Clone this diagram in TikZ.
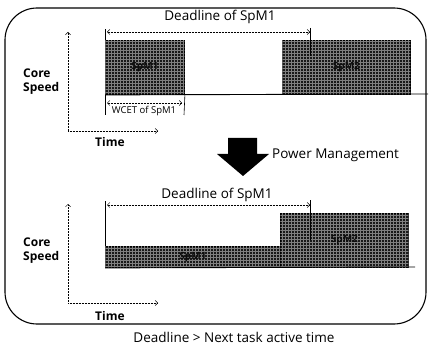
\documentclass[tikz,border=0pt]{standalone}
\usepackage{fontspec}
\setmainfont{Open Sans}
\usetikzlibrary{arrows.meta,patterns}
\begin{document}
\begin{tikzpicture}[x=1pt,y=-1pt,
 lbl/.style={font=\fontsize{13.5}{16}\selectfont, inner sep=0},
 axl/.style={font=\bfseries\fontsize{12}{13.5}\selectfont, inner sep=0, align=left},
 task/.style={draw=black, line width=0.9pt, fill=black!90, postaction={pattern=grid, pattern color=black!50}, inner sep=0, anchor=north west},
 tasklbl/.style={font=\bfseries\fontsize{10}{12}\selectfont, text=black!95, inner sep=0},
 dim/.style={densely dotted, line width=0.5pt, {Straight Barb[length=2.5pt]}-{Straight Barb[length=2.5pt]}},
 axis/.style={densely dotted, line width=0.5pt, -{Straight Barb[length=2.5pt]}},
 tick/.style={line width=0.6pt},
 base/.style={line width=0.9pt}]
\useasboundingbox (0,0) rectangle (430,347);
% outer frame
\draw[line width=1.1pt, rounded corners=32] (5,8) rectangle (426,324);

% ---------- top panel ----------
\coordinate (yt1) at (68,131);
\coordinate (yt1top) at (68,32);
\coordinate (xt1end) at (158,131);
\draw[axis] (yt1) -- (yt1top);
\draw[axis] (yt1) -- (xt1end);
\node[axl, anchor=north west] (cs1) at (23,69) {Core\\Speed};
\node[axl, anchor=west] (time1) at (95,142) {Time};

\node[task, minimum width=79, minimum height=54] (a1) at (105,40) {};
\node[tasklbl] (a1l) at (a1.center) {SpM1};
\node[task, minimum width=128, minimum height=54] (b1) at (282,40) {};
\node[tasklbl] (b1l) at (b1.center) {SpM2};
\coordinate (base1end) at (428,94);
\draw[base] (a1.south west) -- (base1end);

\coordinate (s1top) at (105,29);
\draw[tick] (a1.north west) -- (s1top);
\coordinate (d1top) at (310,28);
\coordinate (d1bot) at (310,56);
\draw[tick, draw=black] (d1top) -- (d1bot);
\coordinate (dl1a) at (107,32);
\coordinate (dl1b) at (310,32);
\draw[dim] (dl1a) -- (dl1b);
\node[lbl] (dlt1) at (220,17) {Deadline of SpM1};

\coordinate (w1a) at (105,115);
\coordinate (w1b) at (184,115);
\draw[tick] (a1.south west) -- (w1a);
\draw[tick] (a1.south east) -- (w1b);
\coordinate (wa) at (107,103);
\coordinate (wb) at (182,103);
\draw[dim] (wa) -- (wb);
\node[lbl, font=\fontsize{9.5}{11}\selectfont] (wcet) at (144,111) {WCET of SpM1};

% ---------- big arrow ----------
\fill (228,138) -- (257,138) -- (257,154) -- (269,154) -- (243,176) -- (217,154) -- (228,154) -- cycle;
\node[lbl, anchor=west] (pm) at (272,155) {Power Management};

% ---------- bottom panel ----------
\coordinate (yt2) at (68,303);
\coordinate (yt2top) at (68,204);
\coordinate (xt2end) at (158,303);
\draw[axis] (yt2) -- (yt2top);
\draw[axis] (yt2) -- (xt2end);
\node[axl, anchor=north west] (cs2) at (23,238) {Core\\Speed};
\node[axl, anchor=west] (time2) at (95,316) {Time};

\node[task, minimum width=175, minimum height=21] (a2) at (105,246) {};
\node[tasklbl] (a2l) at (a2.center) {SpM1};
\node[task, minimum width=128, minimum height=54] (b2) at (280,213) {};
\node[tasklbl] (b2l) at (b2.center) {SpM2};
\coordinate (base2end) at (415,267);
\draw[base] (a2.south west) -- (base2end);

\coordinate (s2top) at (105,201);
\draw[tick] (a2.north west) -- (s2top);
\coordinate (d2top) at (310,200);
\coordinate (d2bot) at (310,240);
\draw[tick] (d2top) -- (d2bot);
\coordinate (dl2a) at (107,205);
\coordinate (dl2b) at (310,205);
\draw[dim] (dl2a) -- (dl2b);
\node[lbl] (dlt2) at (217,195) {Deadline of SpM1};

\node[lbl] (cap) at (234,337.5) {Deadline > Next task active time};
\end{tikzpicture}
\end{document}
